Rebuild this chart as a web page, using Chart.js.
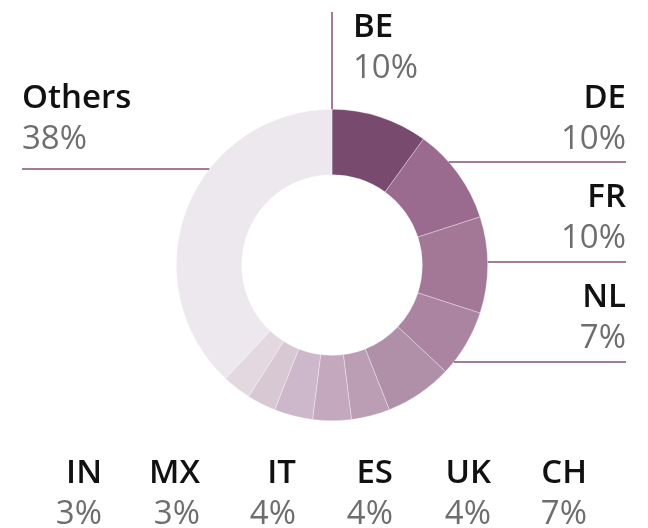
<!DOCTYPE html>
<html>
<head>
<meta charset="utf-8">
<script src="https://cdn.jsdelivr.net/npm/chart.js@4"></script>
<style>
html,body{margin:0;padding:0;background:#fff;}
#wrap{width:648px;height:528px;position:relative;}
</style>
</head>
<body>
<div id="wrap"><canvas id="c" width="648" height="528"></canvas></div>
<script>
// ---- data ----
const categories = ['BE','DE','FR','NL','CH','UK','ES','IT','MX','IN','Others'];
const shares = [10,10,10,7,7,4,4,4,3,3,38];
const sliceColors = ['#774a6e','#9a6b8e','#a27896','#ab84a1','#b08fa8','#bb9db4','#c4a9be','#ccb8ca','#d8c8d4','#e3d8e0','#ede8ed'];

// ---- label layout (text anchor positions, align, leader line type) ----
const labelLayout = {
  BE:     {x:353, y:37,  align:'left',  line:{type:'v', x0:null, y0:12}},
  DE:     {x:626, y:108, align:'right', line:{type:'hr', y:162, x1:626}},
  FR:     {x:626, y:207, align:'right', line:{type:'hr', y:262, x1:626}},
  NL:     {x:626, y:307, align:'right', line:{type:'hr', y:362, x1:626}},
  CH:     {x:587, y:483, align:'right'},
  UK:     {x:491, y:483, align:'right'},
  ES:     {x:393, y:483, align:'right'},
  IT:     {x:296, y:483, align:'right'},
  MX:     {x:200, y:483, align:'right'},
  IN:     {x:102, y:483, align:'right'},
  Others: {x:22,  y:108, align:'left',  line:{type:'hl', y:169, x0:22}}
};

const labelPlugin = {
  id:'outLabels',
  afterDraw(chart){
    const ctx = chart.ctx;
    const meta = chart.getDatasetMeta(0);
    const arc0 = meta.data[0];
    const cx = arc0.x, cy = arc0.y, r = arc0.outerRadius;
    ctx.save();
    ctx.strokeStyle = '#a37b99';
    ctx.lineWidth = 2;
    categories.forEach((cat,i)=>{
      const L = labelLayout[cat];
      if(L.line){
        ctx.beginPath();
        if(L.line.type==='v'){
          ctx.moveTo(cx, L.line.y0);
          ctx.lineTo(cx, cy - r);
        } else if(L.line.type==='hr'){
          const dy = L.line.y - cy;
          const ex = cx + Math.sqrt(Math.max(0, r*r - dy*dy));
          ctx.moveTo(ex, L.line.y);
          ctx.lineTo(L.line.x1, L.line.y);
        } else {
          const dy = L.line.y - cy;
          const ex = cx - Math.sqrt(Math.max(0, r*r - dy*dy));
          ctx.moveTo(L.line.x0, L.line.y);
          ctx.lineTo(ex, L.line.y);
        }
        ctx.stroke();
      }
      ctx.textAlign = L.align;
      ctx.textBaseline = 'alphabetic';
      ctx.fillStyle = '#111111';
      ctx.font = '600 33px "Open Sans"';
      ctx.fillText(cat, L.x, L.y);
      ctx.fillStyle = '#6e6e6e';
      ctx.font = '33px "Open Sans"';
      ctx.fillText(shares[i] + '%', L.x, L.y + 41);
    });
    ctx.restore();
  }
};

new Chart(document.getElementById('c'), {
  type:'doughnut',
  data:{
    labels:categories,
    datasets:[{
      data:shares,
      backgroundColor:sliceColors,
      borderColor:'rgba(255,255,255,0.55)',
      borderWidth:0.6
    }]
  },
  options:{
    responsive:false,
    animation:false,
    cutout:'58%',
    rotation:0,
    layout:{padding:{left:176,right:160,top:109,bottom:107}},
    plugins:{legend:{display:false},tooltip:{enabled:false}}
  },
  plugins:[labelPlugin]
});
</script>
</body>
</html>
